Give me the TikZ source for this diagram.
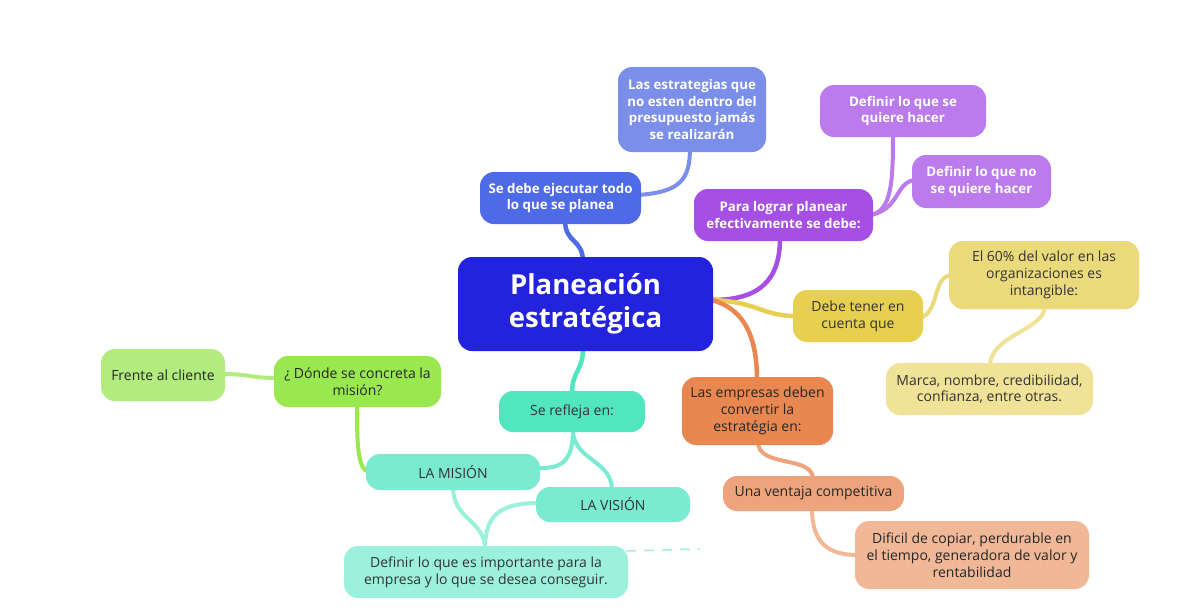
\documentclass[tikz,border=0pt]{standalone}
\usepackage{fontspec}
\setmainfont{Open Sans}
\definecolor{cCen}{HTML}{2323DD}
\definecolor{cSeDebe}{HTML}{4F6AE6}
\definecolor{cLasE}{HTML}{7B8FEA}
\definecolor{cPara}{HTML}{A64FE3}
\definecolor{cDef}{HTML}{BC7BEC}
\definecolor{cDebe}{HTML}{E7CF4F}
\definecolor{cEl}{HTML}{EBDA7C}
\definecolor{cMarca}{HTML}{F0E297}
\definecolor{cEmp}{HTML}{E8874F}
\definecolor{cVen}{HTML}{EDA47C}
\definecolor{cDif}{HTML}{F1B898}
\definecolor{cRef}{HTML}{52E6C0}
\definecolor{cMis}{HTML}{7AEBD0}
\definecolor{cDefI}{HTML}{9BF1DB}
\definecolor{cDonde}{HTML}{9AE850}
\definecolor{cFrente}{HTML}{B3EC7E}
\definecolor{cTxt}{HTML}{333333}
\tikzset{
  box/.style={rounded corners=14pt, inner sep=0pt, align=center,
    font=\fontsize{14}{16.8}\selectfont, text=cTxt},
  wbox/.style={box, text=white, font=\fontsize{13.3}{16.8}\selectfont\bfseries},
  link/.style={line width=4.5pt, line cap=round},
  sublink/.style={line width=4pt, line cap=round},
}
\begin{document}
\begin{tikzpicture}[x=1pt,y=-1pt]
\useasboundingbox[fill=white] (0,0) rectangle (1187,614);
% connectors (drawn first)
\coordinate (cenR) at (712,300);
\draw[link,cSeDebe] (583,262) .. controls (583,238) and (565,244) .. (565,220);
\draw[sublink,cLasE] (638,195) .. controls (680,192) and (690,180) .. (690,148);
\draw[link,cPara] (cenR) .. controls (760,300) and (780,280) .. (780,238);
\draw[sublink,cDef] (870,215) .. controls (892,212) and (893,180) .. (893,134);
\draw[sublink,cDef] (870,215) .. controls (900,210) and (895,182) .. (915,180);
\draw[link,cDebe] (cenR) .. controls (760,302) and (760,316) .. (797,316);
\draw[sublink,cEl] (920,318) .. controls (940,312) and (932,276) .. (952,275);
\draw[sublink,cMarca] (1045,306) .. controls (1045,330) and (990,335) .. (990,366);
\draw[link,cEmp] (cenR) .. controls (740,308) and (757,330) .. (757,380);
\draw[sublink,cVen] (758,442) .. controls (758,468) and (813,455) .. (813,479);
\draw[sublink,cDif] (812,508) .. controls (812,545) and (830,555) .. (858,555);
\draw[link,cRef] (583,348) .. controls (583,372) and (572,370) .. (572,394);
\draw[sublink,cMis] (573,430) .. controls (573,468) and (555,468) .. (537,468);
\draw[sublink,cMis] (573,430) .. controls (573,460) and (612,460) .. (612,490);
\draw[sublink,cDefI] (453,487) .. controls (453,520) and (485,520) .. (485,549);
\draw[sublink,cDefI] (539,503) .. controls (500,503) and (485,515) .. (485,549);
\draw[sublink,cDonde] (369,472) .. controls (357,470) and (357,440) .. (357,404);
\draw[sublink,cFrente] (277,378) .. controls (250,378) and (250,374) .. (222,374);
\draw[cDefI, line width=1.5pt, dash pattern=on 10pt off 8pt] (626,551) -- (700,549);
% nodes
\node[box, fill=cCen, text=white, font=\fontsize{27.5}{33}\selectfont\bfseries,
  minimum width=255pt, minimum height=94pt] (cen) at (585.5,304) {Planeación\\estratégica};
\node[wbox, fill=cSeDebe, minimum width=161pt, minimum height=52pt] (sedebe) at (560.5,198) {Se debe ejecutar todo\\lo que se planea};
\node[wbox, fill=cLasE, minimum width=148pt, minimum height=85pt] (lase) at (692,109.5) {Las estrategias que\\no esten dentro del\\presupuesto jamás\\se realizarán};
\node[wbox, fill=cPara, minimum width=179pt, minimum height=52pt] (para) at (783.5,215) {Para lograr planear\\efectivamente se debe:};
\node[wbox, fill=cDef, minimum width=166pt, minimum height=52pt] (def1) at (903,111) {Definir lo que se\\quiere hacer};
\node[wbox, fill=cDef, minimum width=139pt, minimum height=53pt] (def2) at (981.5,181.5) {Definir lo que no\\se quiere hacer};
\node[box, fill=cDebe, minimum width=130pt, minimum height=52pt] (debe) at (858,316) {Debe tener en\\cuenta que};
\node[box, fill=cEl, minimum width=190pt, minimum height=68pt] (el) at (1044,275) {El 60\% del valor en las\\organizaciones es\\intangible:};
\node[box, fill=cMarca, minimum width=207pt, minimum height=52pt] (marca) at (989.5,389) {Marca, nombre, credibilidad,\\confianza, entre otras.};
\node[box, fill=cEmp, text=black!85, minimum width=151pt, minimum height=68pt] (emp) at (757.5,411) {Las empresas deben\\convertir la\\estratégia en:};
\node[box, fill=cVen, text=black!85, minimum width=181pt, minimum height=35pt] (ven) at (813.5,493.5) {Una ventaja competitiva};
\node[box, fill=cDif, text=black!85, minimum width=234pt, minimum height=68pt] (dif) at (972,555) {Dificil de copiar, perdurable en\\el tiempo, generadora de valor y\\rentabilidad};
\node[box, fill=cRef, minimum width=146pt, minimum height=41pt] (ref) at (572,411.5) {Se refleja en:};
\node[box, fill=cMis, minimum width=174pt, minimum height=36pt] (mis) at (453,472) {LA MISIÓN};
\node[box, fill=cMis, minimum width=154pt, minimum height=35pt] (vis) at (613,504.5) {LA VISIÓN};
\node[box, fill=cDefI, minimum width=284pt, minimum height=52pt] (defi) at (486,572) {Definir lo que es importante para la\\empresa y lo que se desea conseguir.};
\node[box, fill=cDonde, text=black!85, minimum width=167pt, minimum height=51pt] (donde) at (357.5,381.5) {¿ Dónde se concreta la\\misión?};
\node[box, fill=cFrente, text=black!85, minimum width=124pt, minimum height=52pt] (frente) at (163,375) {Frente al cliente};
\end{tikzpicture}
\end{document}
